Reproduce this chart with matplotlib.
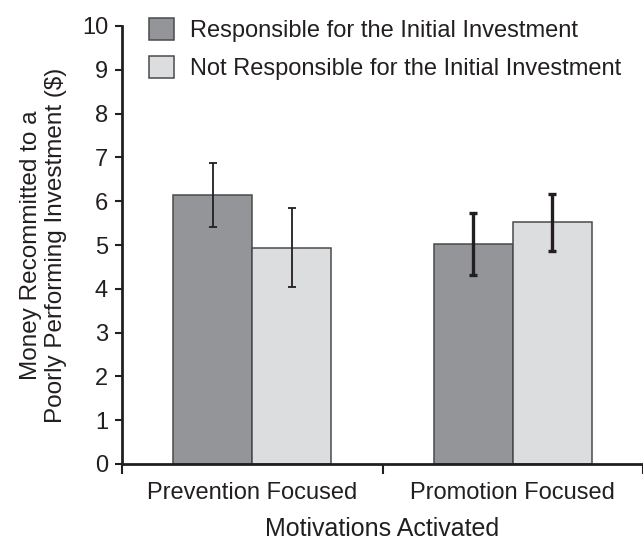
import numpy as np
import matplotlib.pyplot as plt

plt.rcParams['font.family'] = ['Liberation Sans', 'DejaVu Sans']

groups = ['Prevention Focused', 'Promotion Focused']
series = ['Responsible for the Initial Investment', 'Not Responsible for the Initial Investment']
responsible = [6.15, 5.02]
responsible_err = [0.73, 0.70]
not_responsible = [4.94, 5.52]
not_responsible_err = [0.91, 0.65]

# error bar stroke differs between the two groups in the original
err_lw = [1.3, 2.4]

fig = plt.figure(figsize=(6.43, 5.42), dpi=100)
ax = fig.add_axes([122/643, 78/542, 521/643, 438/542])

x = np.arange(len(groups))
w = 0.304
ax.bar(x - w/2, responsible, w, color='#939598', edgecolor='#4a4a4c', linewidth=1.1, label=series[0])
ax.bar(x + w/2, not_responsible, w, color='#dcdddf', edgecolor='#4a4a4c', linewidth=1.1, label=series[1])
for i in range(len(groups)):
    ax.errorbar(x[i] - w/2, responsible[i], yerr=responsible_err[i], fmt='none', ecolor='#231f20',
                elinewidth=err_lw[i], capsize=3.2, capthick=err_lw[i])
    ax.errorbar(x[i] + w/2, not_responsible[i], yerr=not_responsible_err[i], fmt='none', ecolor='#231f20',
                elinewidth=err_lw[i], capsize=3.2, capthick=err_lw[i])

ax.set_xlim(-0.5, 1.5)
ax.set_ylim(0, 10)
ax.set_yticks(range(0, 11))
ax.set_xticks([-0.5, 0.5, 1.5])
ax.set_xticklabels([])
ax.set_xticks(x, minor=True)
ax.set_xticklabels(groups, minor=True)
ax.tick_params(axis='x', which='minor', length=0, labelsize=17, pad=13, colors='#231f20')
ax.tick_params(axis='x', which='major', length=7, width=1.5, direction='out', color='#231f20')
ax.tick_params(axis='y', length=5, width=1.5, labelsize=17, colors='#231f20', pad=5)
for s in ['top', 'right']:
    ax.spines[s].set_visible(False)
for s in ['left', 'bottom']:
    ax.spines[s].set_linewidth(2)
    ax.spines[s].set_color('#231f20')

ax.set_xlabel('Motivations Activated', fontsize=18, color='#231f20', labelpad=9)
ax.set_ylabel('Money Recommitted to a\nPoorly Performing Investment ($)', fontsize=17.5,
              color='#231f20', linespacing=1.2)
ax.yaxis.set_label_coords(-0.105, 0.5)

ax.legend(loc='upper left', bbox_to_anchor=(149/643, 1 - 18/542), bbox_transform=fig.transFigure,
          frameon=False, fontsize=17, borderpad=0, borderaxespad=0,
          handlelength=1.05, handleheight=1.05, handletextpad=0.7, labelspacing=0.6,
          labelcolor='#231f20')

fig.savefig('out.png', dpi=100)
